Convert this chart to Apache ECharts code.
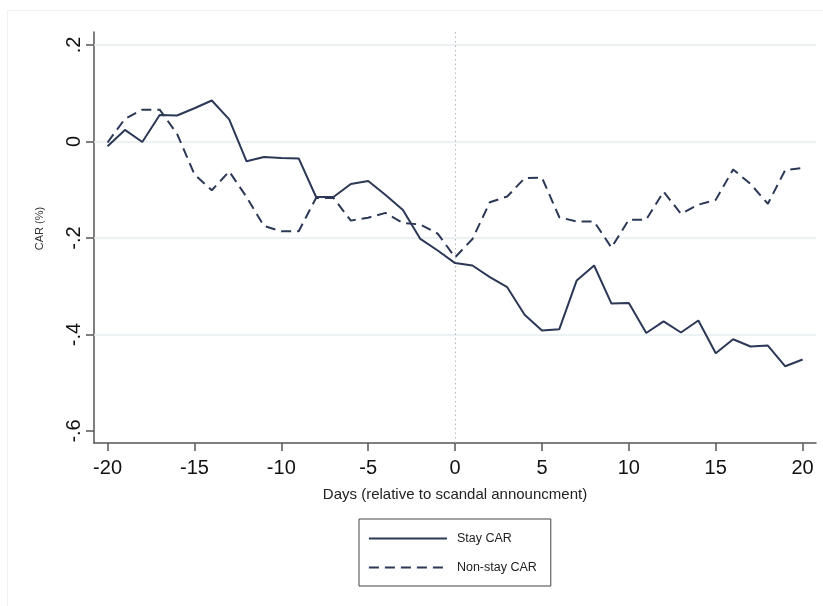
<!DOCTYPE html>
<html>
<head>
<meta charset="utf-8">
<script src="https://cdn.jsdelivr.net/npm/echarts@6/dist/echarts.min.js"></script>
<style>html,body{margin:0;padding:0;background:#fff}#chart{width:823px;height:606px}</style>
</head>
<body>
<div id="chart"></div>
<script>
const days = [-20,-19,-18,-17,-16,-15,-14,-13,-12,-11,-10,-9,-8,-7,-6,-5,-4,-3,-2,-1,0,1,2,3,4,5,6,7,8,9,10,11,12,13,14,15,16,17,18,19,20];
const stayCar = [-0.010,0.024,-0.001,0.055,0.054,0.069,0.085,0.046,-0.041,-0.032,-0.034,-0.035,-0.115,-0.115,-0.088,-0.082,-0.111,-0.142,-0.202,-0.226,-0.252,-0.257,-0.281,-0.302,-0.359,-0.392,-0.389,-0.288,-0.257,-0.336,-0.335,-0.397,-0.373,-0.396,-0.371,-0.439,-0.410,-0.425,-0.423,-0.466,-0.452];
const nonStayCar = [-0.002,0.047,0.066,0.066,0.016,-0.068,-0.101,-0.062,-0.115,-0.175,-0.186,-0.186,-0.117,-0.117,-0.164,-0.158,-0.148,-0.169,-0.172,-0.191,-0.240,-0.202,-0.126,-0.114,-0.076,-0.075,-0.157,-0.166,-0.166,-0.220,-0.162,-0.162,-0.104,-0.150,-0.131,-0.121,-0.058,-0.088,-0.129,-0.059,-0.055];
const xTicks = [-20,-15,-10,-5,0,5,10,15,20];
const yTicks = [-0.6,-0.4,-0.2,0,0.2];
const gridYs = [-0.4,-0.2,0,0.2];
const eventDay = 0;

const lineColor = '#2b3856';
const fontFam = '"Liberation Sans", Arial, sans-serif';

function fmtY(v){
  if (Math.abs(v) < 1e-9) return '0';
  const s = String(Math.abs(Math.round(v*10)/10)).replace(/^0/, '');
  return (v < 0 ? '-' : '') + s;
}

const chart = echarts.init(document.getElementById('chart'), null, {renderer:'canvas'});
chart.setOption({
  animation: false,
  backgroundColor: '#fff',
  textStyle: {fontFamily: fontFam},
  graphic: [{
    type: 'rect', silent: true, z: -10,
    shape: {x: 7.5, y: 10.5, width: 900, height: 900},
    style: {fill: 'none', stroke: '#f0f0f0', lineWidth: 1}
  }],
  grid: {left: 94, right: 7, top: 32, bottom: 163, containLabel: false},
  xAxis: {
    type: 'value', min: -20.78, max: 20.77,
    name: 'Days (relative to scandal announcment)',
    nameLocation: 'middle', nameGap: 44,
    nameTextStyle: {fontSize: 15, color: '#222', fontFamily: fontFam},
    axisLine: {show: true, onZero: false, lineStyle: {color: '#555', width: 1.5}},
    axisTick: {show: true, length: 8, customValues: xTicks, lineStyle: {color: '#555', width: 1.5}},
    axisLabel: {show: true, customValues: xTicks, margin: 15, fontSize: 20, color: '#111', fontFamily: fontFam},
    splitLine: {show: false}
  },
  yAxis: {
    type: 'value', min: -0.625, max: 0.227,
    name: 'CAR (%)',
    nameLocation: 'middle', nameGap: 49,
    nameTextStyle: {fontSize: 11, color: '#333', fontFamily: fontFam, padding: [0, 0, 0, 18]},
    axisLine: {show: true, onZero: false, lineStyle: {color: '#555', width: 1.5}},
    axisTick: {show: true, length: 8, customValues: yTicks, lineStyle: {color: '#555', width: 1.5}},
    axisLabel: {show: true, customValues: yTicks, rotate: 90, margin: 10, fontSize: 20, color: '#111', fontFamily: fontFam, formatter: fmtY},
    splitLine: {show: false}
  },
  legend: {
    show: true,
    orient: 'vertical', left: 359, top: 519,
    padding: [13, 14, 12, 9], itemGap: 16,
    itemWidth: 78, itemHeight: 14,
    borderColor: '#444', borderWidth: 1, borderRadius: 0,
    backgroundColor: '#fff',
    textStyle: {fontSize: 12.5, color: '#222', fontFamily: fontFam, padding: [0,0,0,5]},
    itemStyle: {opacity: 0},
    data: [
      {name: 'Stay CAR', lineStyle: {color: lineColor, width: 1.8, type: 'solid'}},
      {name: 'Non-stay CAR', lineStyle: {color: lineColor, width: 1.8, type: [10, 6]}}
    ]
  },
  series: [
    {
      name: 'Stay CAR', type: 'line', symbol: 'none',
      data: days.map((d, i) => [d, stayCar[i]]),
      lineStyle: {color: lineColor, width: 2, type: 'solid'},
      itemStyle: {color: lineColor},
      z: 5,
      markLine: {
        silent: true, symbol: 'none', label: {show: false}, animation: false,
        lineStyle: {color: '#e6eef0', width: 1.5, type: 'solid'},
        data: gridYs.map(v => ({yAxis: v}))
      }
    },
    {
      name: 'Non-stay CAR', type: 'line', symbol: 'none',
      data: days.map((d, i) => [d, nonStayCar[i]]),
      lineStyle: {color: lineColor, width: 2, type: [10, 6]},
      itemStyle: {color: lineColor},
      z: 5,
      markLine: {
        silent: true, symbol: 'none', label: {show: false}, animation: false,
        lineStyle: {color: '#b9b3bb', width: 1, type: [1.5, 3]},
        data: [{xAxis: eventDay}]
      }
    }
  ]
});
</script>
</body>
</html>
